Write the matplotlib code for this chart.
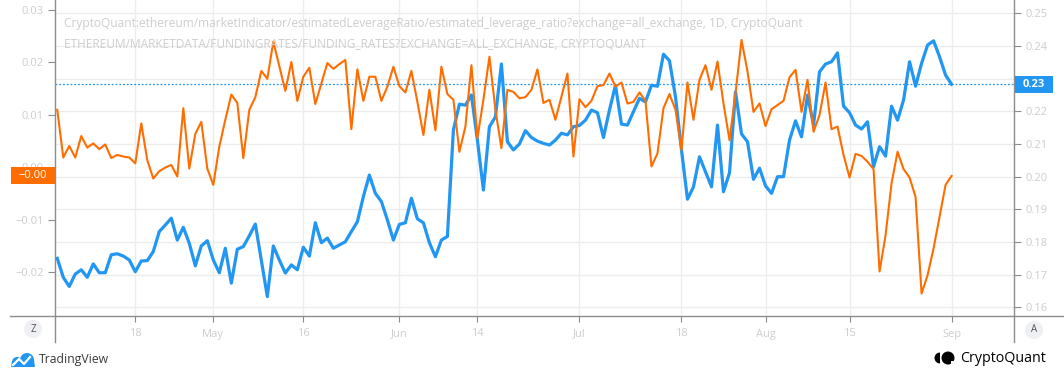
import matplotlib
matplotlib.use('Agg')
import matplotlib.pyplot as plt
import pandas as pd
from matplotlib.transforms import blended_transform_factory, IdentityTransform
from matplotlib.patches import Rectangle, Circle, Wedge, Polygon
from matplotlib.lines import Line2D

# ---------------- data ----------------
start_date = '2021-04-05'
n_days = 150

# funding rates (left scale, orange)
funding_rate = [
    0.0109, 0.0018, 0.0040, 0.0018, 0.0059, 0.0037, 0.0045, 0.0034, 0.0043, 0.0017,
    0.0023, 0.0020, 0.0018, 0.0007, 0.0083, 0.0013, -0.0022, -0.0008, -0.0001, 0.0004,
    -0.0018, 0.0112, -0.0003, 0.0063, 0.0086, -0.0003, -0.0034, 0.0039, 0.0090, 0.0138,
    0.0122, 0.0017, 0.0109, 0.0133, 0.0183, 0.0168, 0.0239, 0.0192, 0.0145, 0.0200,
    0.0126, 0.0172, 0.0189, 0.0120, 0.0159, 0.0198, 0.0187, 0.0196, 0.0204, 0.0072,
    0.0186, 0.0126, 0.0172, 0.0172, 0.0126, 0.0153, 0.0191, 0.0154, 0.0142, 0.0183,
    0.0124, 0.0061, 0.0147, 0.0070,
    0.0191, 0.0139, 0.0128, 0.0029, 0.0077, 0.0194, 0.0055, 0.0128, 0.0210, 0.0109,
    0.0036, 0.0147, 0.0143, 0.0131, 0.0133, 0.0147, 0.0186, 0.0122, 0.0128, 0.0090,
    0.0134, 0.0178, 0.0020, 0.0129, 0.0114, 0.0126, 0.0154, 0.0156, 0.0178, 0.0153,
    0.0161, 0.0121, 0.0124, 0.0142, 0.0126, 0.0001, 0.0026, 0.0112, 0.0139, 0.0109,
    0.0032, 0.0161, 0.0090, 0.0166, 0.0194, 0.0147, 0.0201, 0.0121, 0.0051, 0.0140,
    0.0242, 0.0182, 0.0105, 0.0121, 0.0078, 0.0110, 0.0118, 0.0126, 0.0171, 0.0185,
    0.0105, 0.0166, 0.0067, 0.0099,
    0.0161, 0.0072, 0.0077, 0.0023, -0.0020, 0.0025, 0.0021, 0.0010, -0.0004, -0.0199,
    -0.0130, -0.0031, 0.0029, -0.0004, -0.0020, -0.0057, -0.0241, -0.0206, -0.0155, -0.0095,
    -0.0034, -0.0017,
]

# estimated leverage ratio (right scale, blue)
leverage_ratio = [
    0.1750, 0.1692, 0.1664, 0.1702, 0.1715, 0.1692, 0.1733, 0.1706, 0.1706, 0.1761,
    0.1764, 0.1757, 0.1745, 0.1709, 0.1742, 0.1743, 0.1771, 0.1832, 0.1852, 0.1873,
    0.1806, 0.1845, 0.1796, 0.1727, 0.1788, 0.1804, 0.1745, 0.1706, 0.1781, 0.1674,
    0.1778, 0.1786, 0.1819, 0.1855, 0.1745, 0.1633, 0.1788, 0.1745, 0.1705, 0.1730,
    0.1715, 0.1784, 0.1757, 0.1859, 0.1798, 0.1812, 0.1781, 0.1791, 0.1801, 0.1832,
    0.1862, 0.1939, 0.2005, 0.1949, 0.1924, 0.1868, 0.1806, 0.1854, 0.1859, 0.1934,
    0.1871, 0.1859, 0.1798, 0.1755,
    0.1806, 0.1817, 0.2143, 0.2222, 0.2219, 0.2250, 0.2112, 0.1959, 0.2153, 0.2183,
    0.2345, 0.2107, 0.2082, 0.2100, 0.2141, 0.2120, 0.2109, 0.2102, 0.2097, 0.2112,
    0.2133, 0.2128, 0.2153, 0.2157, 0.2173, 0.2204, 0.2196, 0.2120, 0.2204, 0.2280,
    0.2161, 0.2158, 0.2199, 0.2240, 0.2229, 0.2280, 0.2277, 0.2375, 0.2355, 0.2245,
    0.2082, 0.1931, 0.1969, 0.2061, 0.2015, 0.1969, 0.2158, 0.1954, 0.2012, 0.2260,
    0.2131, 0.2107, 0.1992, 0.2026, 0.1972, 0.1949, 0.2000, 0.2000, 0.2112, 0.2171,
    0.2122, 0.2250, 0.2158, 0.2321,
    0.2345, 0.2352, 0.2379, 0.2216, 0.2196, 0.2158, 0.2146, 0.2168, 0.2031, 0.2092,
    0.2063, 0.2216, 0.2173, 0.2235, 0.2352, 0.2277, 0.2347, 0.2403, 0.2416, 0.2367,
    0.2311, 0.2283,
]

x_tick_dates = ['2021-04-18', '2021-05-01', '2021-05-16', '2021-06-01', '2021-06-14',
                '2021-07-01', '2021-07-18', '2021-08-01', '2021-08-15', '2021-09-01']
x_tick_labels = ['18', 'May', '16', 'Jun', '14', 'Jul', '18', 'Aug', '15', 'Sep']

left_ticks = [-0.02, -0.01, 0.00, 0.01, 0.02, 0.03]
left_tick_labels = ['\u22120.02', '\u22120.01', '0.00', '0.01', '0.02', '0.03']
right_ticks = [0.16, 0.17, 0.18, 0.19, 0.20, 0.21, 0.22, 0.23, 0.24, 0.25]
right_tick_labels = ['0.16', '0.17', '0.18', '0.19', '0.20', '0.21', '0.22', '', '0.24', '0.25']

title_line1 = ('CryptoQuant:ethereum/marketIndicator/estimatedLeverageRatio/'
               'estimated_leverage_ratio?exchange=all_exchange, 1D, CryptoQuant')
title_line2 = 'ETHEREUM/MARKETDATA/FUNDINGRATES/FUNDING_RATES?EXCHANGE=ALL_EXCHANGE, CRYPTOQUANT'

# ---------------- style ----------------
BLUE = '#2196f3'
ORANGE = '#ff6d00'
GRID = '#ececec'
LABEL = '#cdcdcd'
AXLINE = '#8c8c8c'
FONT = ['Open Sans', 'DejaVu Sans']
plt.rcParams['font.family'] = FONT

W, H = 1064, 378
fig = plt.figure(figsize=(W / 100, H / 100), dpi=100)
fig.patch.set_facecolor('white')

L, R, T, B = 55, 1014, 0, 316
ax = fig.add_axes([L / W, 1 - B / H, (R - L) / W, (B - T) / H])   # blue, right scale
ax2 = ax.twinx()                                                   # orange, left scale
ax.yaxis.tick_right()
ax2.yaxis.tick_left()

dates = pd.date_range(start_date, periods=n_days, freq='D')

ax.plot(dates, leverage_ratio, color=BLUE, lw=2.3, solid_joinstyle='round', zorder=3)
ax2.plot(dates, funding_rate, color=ORANGE, lw=1.5, solid_joinstyle='round', zorder=3)
ax.axhline(leverage_ratio[-1], color=BLUE, lw=0.9, ls=(0, (1.5, 1.5)), zorder=2)

# limits
x0 = pd.Timestamp(start_date) - pd.Timedelta(hours=9)
x1 = pd.Timestamp(start_date) + pd.Timedelta(days=159.4)
ax.set_xlim(x0, x1)
ax.set_ylim(0.15735, 0.25410)
ax2.set_ylim(-0.02838, 0.03181)

# ticks
ax.set_xticks(pd.to_datetime(x_tick_dates))
ax.set_xticklabels(x_tick_labels)
ax.set_yticks(right_ticks)
ax.set_yticklabels(right_tick_labels)
ax2.set_yticks(left_ticks)
ax2.set_yticklabels(left_tick_labels)

ax.tick_params(axis='x', length=4, color=AXLINE, labelcolor=LABEL, labelsize=8, pad=5)
ax.tick_params(axis='y', length=5, color=AXLINE, labelcolor=LABEL, labelsize=8, pad=3)
ax2.tick_params(axis='y', length=5, color=AXLINE, labelcolor=LABEL, labelsize=8, pad=3)
for a in (ax, ax2):
    for s in a.spines.values():
        s.set_visible(False)

ax.grid(True, color=GRID, lw=1, zorder=0)
ax.set_axisbelow(True)
ax2.grid(False)
ax2.patch.set_visible(False)

# ---------------- last value badges ----------------
tr_left = blended_transform_factory(ax.transAxes, ax2.transData)
h_left = (0.03181 + 0.02838) * 17 / 316
ax2.add_patch(Rectangle((-44 / (R - L), funding_rate[-1] - h_left / 2), 44 / (R - L), h_left,
                        transform=tr_left, fc=ORANGE, ec='none', clip_on=False, zorder=10))
ax2.text(-22 / (R - L), funding_rate[-1], '\u22120.00', transform=tr_left, ha='center',
         va='center', color='white', fontsize=8, zorder=11, clip_on=False)

tr_right = blended_transform_factory(ax.transAxes, ax.transData)
h_right = (0.25410 - 0.15735) * 17 / 316
ax.add_patch(Rectangle((1.0, leverage_ratio[-1] - h_right / 2), 39 / (R - L), h_right,
                       transform=tr_right, fc=BLUE, ec='none', clip_on=False, zorder=10))
ax.text(1.0 + 19.5 / (R - L), leverage_ratio[-1], f'{leverage_ratio[-1]:.2f}', transform=tr_right,
        ha='center', va='center', color='white', fontsize=8, fontweight='bold', zorder=11,
        clip_on=False)

# ---------------- header text ----------------
fig.text(64 / W, 1 - 24 / H, title_line1, ha='left', va='center', color=LABEL, fontsize=8.6)
fig.text(64 / W, 1 - 44 / H, title_line2, ha='left', va='center', color=LABEL, fontsize=8.6)

# ---------------- frame lines (pixel coords) ----------------
ID = IdentityTransform()
def P(x, y):
    return (x, H - y)

for xs, ys in [((10, W), (316, 316)), ((55, 55), (0, 342)), ((1014, 1014), (0, 342))]:
    fig.add_artist(Line2D(xs, [H - y for y in ys], transform=ID, color=AXLINE, lw=1))

# Z / A buttons
for cx, cy, s in [(33, 329, 'Z'), (1034, 330, 'A')]:
    fig.add_artist(Circle(P(cx, cy), 9, transform=ID, fc='#eef0f4', ec='none'))
    fig.text(cx / W, 1 - cy / H, s, ha='center', va='center', color='#555555', fontsize=7)

# TradingView logo
fig.add_artist(Circle(P(17, 362), 5, transform=ID, fc='#2196f3', ec='none'))
fig.add_artist(Circle(P(27, 360), 7, transform=ID, fc='#2196f3', ec='none'))
fig.add_artist(Polygon([P(11, 367), P(35, 367), P(34, 360), P(12, 361)], transform=ID,
                       fc='#2196f3', ec='none'))
fig.add_artist(Line2D([P(13, 365)[0], P(19, 359)[0], P(24, 364)[0], P(30, 357)[0]],
                      [P(13, 365)[1], P(19, 359)[1], P(24, 364)[1], P(30, 357)[1]],
                      transform=ID, color='white', lw=1.6))
fig.text(39 / W, 1 - 360 / H, 'TradingView', ha='left', va='center', color='#3a3a3a',
         fontsize=8.8)

# CryptoQuant logo
fig.add_artist(Wedge(P(940, 358), 5.5, 90, 270, transform=ID, fc='black', ec='none'))
fig.add_artist(Circle(P(948, 358), 6.5, transform=ID, fc='black', ec='none'))
fig.add_artist(Wedge(P(951, 361), 3.0, 270, 360, transform=ID, fc='white', ec='none'))
fig.text(960 / W, 1 - 358 / H, 'CryptoQuant', ha='left', va='center', color='black',
         fontsize=10.3)

fig.savefig('out.png', dpi=100, facecolor='white')
